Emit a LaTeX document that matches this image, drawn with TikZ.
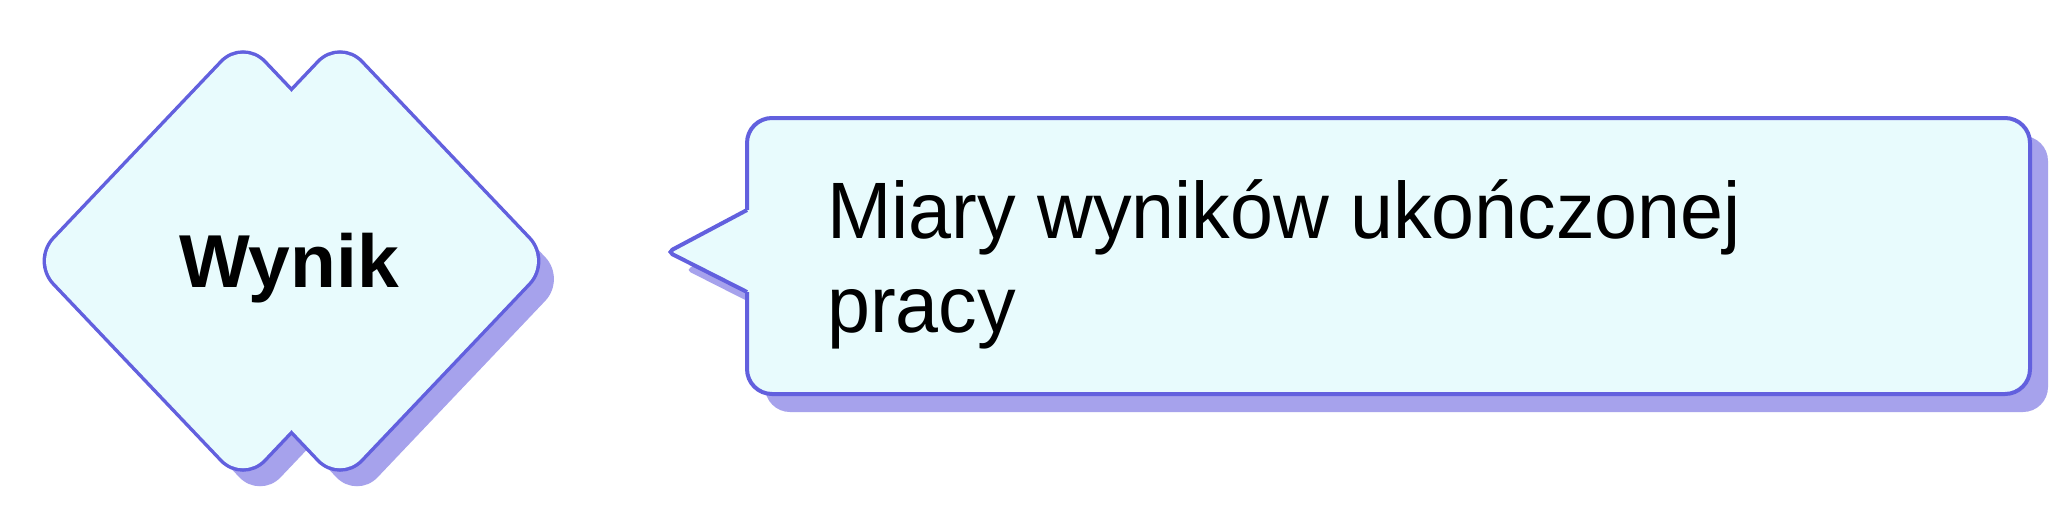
\documentclass[tikz,border=0pt]{standalone}
\usepackage{fontspec}
\setmainfont{Liberation Sans}
\newfontfamily\bodyfont[FakeStretch=0.965]{Liberation Sans}
\definecolor{outl}{RGB}{98,96,222}
\definecolor{shad}{RGB}{166,162,236}
\definecolor{boxfill}{RGB}{232,251,253}
\tikzset{
  shadowfill/.style={fill=shad},
  shapeline/.style={draw=outl, line width=4pt},
  lightfill/.style={fill=boxfill},
  labeltext/.style={inner sep=0pt, text=black},
}
\begin{document}
\begin{tikzpicture}[x=1pt,y=-1pt]
\useasboundingbox[fill=white] (0,0) rectangle (2056,512);

% ---- double diamond "Wynik" ----
% shadow
\path[shadowfill, rounded corners=30pt, shift={(17,18)}] (34,261) -- (243,41) -- (452,261) -- (243,481) -- cycle;
\path[shadowfill, rounded corners=30pt, shift={(17,18)}] (131,261) -- (340,41) -- (549,261) -- (340,481) -- cycle;
% outlines
\draw[draw=outl, line width=7pt, rounded corners=30pt] (34,261) -- (243,41) -- (452,261) -- (243,481) -- cycle;
\draw[draw=outl, line width=7pt, rounded corners=30pt] (131,261) -- (340,41) -- (549,261) -- (340,481) -- cycle;
% fills (cover inner crossing lines)
\path[lightfill, rounded corners=30pt] (34,261) -- (243,41) -- (452,261) -- (243,481) -- cycle;
\path[lightfill, rounded corners=30pt] (131,261) -- (340,41) -- (549,261) -- (340,481) -- cycle;
\node[labeltext, anchor=base, font=\bfseries\fontsize{75}{90}\selectfont] (wynik) at (289,287) {Wynik};

% ---- callout ----
\path[shadowfill, rounded corners=25pt] (765,136) rectangle (2048,412);
\path[shadowfill, rounded corners=5pt] (765,226) -- (686,270) -- (765,310) -- cycle;
\path[lightfill, shapeline, rounded corners=25pt] (747,118) rectangle (2030,394);
\path[lightfill, rounded corners=5pt] (751,207.8) -- (668,252) -- (751,294) -- cycle;
\draw[draw=outl, line width=4pt, rounded corners=5pt] (747,210) -- (668,252) -- (747,292);
\node[labeltext, anchor=base west, align=left, font=\bodyfont\fontsize{80}{94}\selectfont] (desc) at (827,332) {Miary wyników ukończonej\\pracy};
\end{tikzpicture}
\end{document}
